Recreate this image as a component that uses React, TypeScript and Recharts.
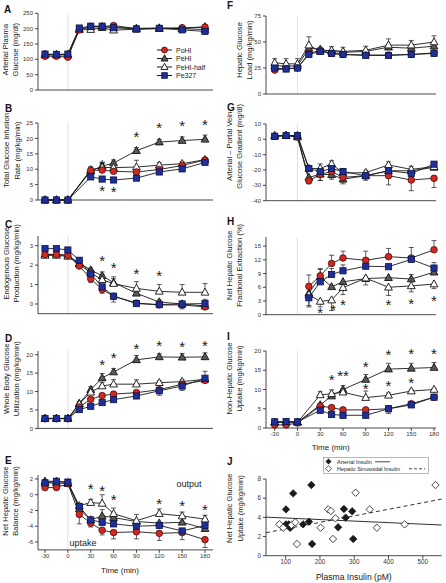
import React from 'react'
import {
  ComposedChart,
  Line,
  ErrorBar,
  Scatter,
  XAxis,
  YAxis,
  ReferenceLine,
  ReferenceDot,
  Legend
} from 'recharts'

const FONT = '"Liberation Sans", Arial, Helvetica, sans-serif'
const INK = '#1a1a1a'

// ---- time grid (min) ----
const timeFull = [-30, -15, 0, 15, 30, 45, 60, 90, 120, 150, 180]
const timeNo15 = [-30, -15, 0, 30, 45, 60, 90, 120, 150, 180]
const timeClamp = [15, 30, 45, 60, 90, 120, 150, 180]
const timeTicks = [-30, 0, 30, 60, 90, 120, 150, 180]

// ---- A: arterial plasma glucose (mg/dl) ----
const aPoHI = [110, 110, 107, 196, 207, 207, 210, 200, 201, 203, 205]
const aPeHI = [116, 116, 116, 198, 205, 206, 204, 201, 202, 200, 197]
const aPeHIhalf = [114, 114, 114, 196, 197, 203, 195, 198, 200, 200, 206]
const aPe327 = [117, 116, 117, 202, 208, 208, 203, 199, 201, 196, 191]

// ---- B: total glucose infusion rate ----
const bPoHI = [0, 0, 0, 9.6, 9.7, 9.3, 9.1, 9.9, 11.2, 13.0]
const bPeHI = [0, 0, 0, 9.4, 11.0, 12.0, 16.0, 18.8, 19.3, 19.7]
const bPeHIhalf = [0, 0, 0, 9.8, 10.6, 10.5, 10.7, 11.3, 11.8, 13.1]
const bPe327 = [0, 0, 0, 7.5, 6.8, 6.5, 7.1, 9.1, 10.1, 12.2]
const bPeHIerr = [0, 0, 0, 1.2, 1.0, 1.0, 1.0, 0.9, 1.2, 1.4]
const bPeHIhalfErr = [0, 0, 0, 1.0, 1.2, 1.6, 2.2, 0.8, 0.6, 0.5]
const bStars: [number, number, string?][] = [[45, 12.6], [60, 12.6], [90, 21.8], [120, 24.7], [150, 25.1], [180, 25.5], [45, 4.1], [60, 3.9]]

// ---- C: endogenous glucose production ----
const cPoHI = [2.55, 2.55, 2.5, 1.95, 1.3, 0.75, 0.4, 0.05, -0.05, -0.05, -0.15]
const cPeHI = [2.55, 2.55, 2.5, 2.1, 1.75, 1.45, 1.1, 0.55, 0.1, 0.0, -0.1]
const cPeHIhalf = [2.5, 2.5, 2.45, 2.05, 1.6, 1.25, 1.05, 0.8, 0.65, 0.6, 0.6]
const cPe327 = [2.85, 2.85, 2.78, 2.25, 1.55, 0.88, 0.4, 0.02, -0.03, 0.0, 0.02]
const cPoHIerr = [0, 0, 0, 0, -0.2, -0.2, -0.3, 0, 0, -0.2, 0]
const cPeHIerr = [0, 0, 0, 0, 0.1, 0.2, 0.2, 0, 0.1, 0, 0]
const cPeHIhalfErr = [0, 0, 0, 0, 0.15, 0.25, 0.35, 0.35, 0.35, 0.4, 0.45]
const cPe327err = [0, 0, 0, 0, 0, 0, 0, 0, 0, 0, 0.22]
const cStars: [number, number, string?][] = [[45, 2.4], [60, 2.05], [90, 1.75], [120, 1.66]]

// ---- D: whole body glucose utilization ----
const dPoHI = [2.6, 2.6, 2.6, 5.8, 7.9, 8.9, 9.3, 9.7, 10.5, 12.0, 13.0]
const dPeHI = [2.7, 2.7, 2.7, 6.8, 10.5, 13.7, 15.3, 18.6, 19.4, 19.3, 19.4]
const dPeHIhalf = [2.7, 2.7, 2.7, 6.6, 9.8, 11.5, 12.0, 12.0, 12.4, 12.7, 13.3]
const dPe327 = [2.7, 2.7, 2.7, 5.1, 6.0, 7.0, 7.8, 8.8, 10.2, 11.5, 13.6]
const dPeHIerr = [0, 0, 0, 0.5, 0.8, 1.2, 0.9, 1.2, 0.8, 1.0, 1.1]
const dPeHIhalfErr = [0, 0, 0, 0, 0.8, 1.0, 1.3, 1.2, 0.5, 0.5, 0.5]
const dPe327err = [0, 0, 0, 0, 0, 0, 0, -0.7, -1.2, -1.2, 1.9]
const dStars: [number, number, string?][] = [[45, 18.2], [60, 20.0], [90, 22.7], [120, 23.3], [150, 23.2], [180, 23.3]]

// ---- E: net hepatic glucose balance ----
const ePoHI = [0.9, 0.9, 1.4, -2.5, -3.6, -4.5, -4.8, -4.7, -4.9, -4.8, -5.7]
const ePeHI = [1.7, 1.7, 1.5, -1.8, -3.2, -2.7, -2.9, -3.4, -3.6, -3.5, -4.3]
const ePeHIhalf = [1.5, 1.5, 1.4, -1.4, -1.0, -1.1, -2.4, -3.3, -2.4, -2.7, -3.1]
const ePe327 = [1.5, 1.7, 1.6, -1.5, -3.2, -3.5, -3.7, -4.0, -3.9, -4.6, -3.9]
const ePoHIerr = [0, 0, 0, -1.2, -0.5, -0.6, -0.8, -0.9, -0.9, -0.9, -1.0]
const ePeHIerr = [0.2, 0, 0, 0, 0, 0.8, 0.6, 0, 0, 0, 0]
const ePeHIhalfErr = [0, 0, 0, 0, 0.4, 1.1, 0.7, 0.8, 0.6, 0.5, 0.5]
const eStars: [number, number, string?][] = [[30, 1.15], [45, 0.94], [60, -0.2], [120, -0.64], [150, -0.94], [180, -1.4]]
const eNotes: [number, number, string][] = [[159, 1.4, 'output'], [20, -6.1, 'uptake']]

// ---- F: hepatic glucose load ----
const fPoHI = [23, 24.5, 25, 39, 42, 39, 38, 37.5, 37.5, 38, 39.5]
const fPeHI = [27, 27, 27, 44, 43, 41, 40, 41, 45, 44, 46]
const fPeHIhalf = [30, 29, 29, 47, 41, 42, 41, 42, 47, 47, 50]
const fPe327 = [25, 24, 25, 38, 41, 39, 38, 37, 37, 38, 39]
const fPeHIhalfErr = [4, 5, 5, 8, 2, 3.5, 4, 4, 6, 4.5, 6]

// ---- G: arterial - portal vein glucose gradient ----
const gPoHI = [2, 2.5, 1.5, -27, -22.8, -21, -24.8, -23.7, -23.7, -26.5, -25.4]
const gPeHI = [2, 2.5, 1.5, -24.8, -22.8, -23, -26, -23.7, -20.5, -20.5, -18.3]
const gPeHIhalf = [2.5, 2.5, 2.5, -19, -19, -16, -22, -21.7, -16.7, -19.6, -17.8]
const gPe327 = [2, 2.5, 2.5, -19.1, -21, -19, -21, -23.7, -20.5, -22.2, -16.2]
const gPoHIerr = [0, 0, 0, -2, -4, -4, -3, -3, -6, -7, -6]
const gPeHIerr = [0, 0, 0, 0, -4, -3, -3, -2, 0, 0, 0]
const gPeHIhalfErr = [0, 0, 0, 0, 3, 2, 3, 1.5, 2, 2, 1.5]

// ---- H: net hepatic fractional extraction (%) ----
const hPoHI = [6.2, 8.5, 11.2, 12.4, 11.9, 12.7, 12.4, 14.2]
const hPeHI = [4.7, 8.3, 6.1, 7.2, 7.9, 8.1, 7.8, 9.3]
const hPeHIhalf = [4.4, 2.9, 3.2, 5.9, 8.0, 6.0, 6.3, 6.7]
const hPe327 = [3.7, 7.2, 8.8, 9.6, 10.6, 10.5, 12.1, 10.2]
const hPoHIerr = [2.5, 1.6, 1.8, 1.5, 2.0, 1.8, 2.3, 2.0]
const hPeHIerr = [0, 1.6, 0, 0, 0, 0, 1.0, 1.2]
const hPeHIhalfErr = [-2.4, -1.2, -2.3, -1.5, -1.5, -1.8, -1.3, -1.0]
const hPe327err = [-2.0, 0, 1.3, 1.3, 0, 0, 0, 1.2]
const hStars: [number, number, string?][] = [[30, 1.3], [47, 1.8], [60, 2.9], [120, 2.9], [150, 3.1], [180, 3.9]]

// ---- I: non-hepatic glucose uptake ----
const iPoHI = [0.8, 0.8, 1.3, 5.7, 5.3, 4.7, 4.7, 5.0, 6.3, 8.0]
const iPeHI = [1.5, 1.5, 1.5, 6.0, 8.3, 10.0, 12.6, 15.3, 15.5, 15.7]
const iPeHIhalf = [1.5, 1.5, 1.5, 8.6, 8.9, 9.3, 7.9, 8.5, 9.6, 10.0]
const iPe327 = [1.6, 1.7, 1.6, 4.6, 3.5, 3.3, 3.3, 5.0, 6.0, 8.0]
const iPeHIerr = [0, 0, 0, 0, 0.8, 1.0, 1.3, 1.5, 1.3, 1.3]
const iPeHIhalfErr = [0, 0, 0, 0.8, 1.0, 0.8, 1.7, 0.6, 0.3, 0.3]
const iPe327err = [0, 0, 0, -0.6, -0.7, -0.6, 0, -1.2, -0.6, -0.6]
const iStars: [number, number, string?][] = [[45, 13.4], [60, 14.4, '**'], [90, 16.9], [90, 11.1], [120, 20.0], [120, 11.9], [150, 20.2], [150, 12.8], [180, 20.3]]

// ---- J: NHGU vs plasma insulin ----
const arterialInsulin = [101, 101, 109, 113, 122, 151, 168, 175, 177, 253, 270, 275, 294, 297]
const arterialNHGU = [4.83, 3.27, 3.27, 2.9, 6.5, 3.27, 3.55, 7.37, 1.22, 2.96, 4.87, 3.97, 4.63, 1.74]
const sinusoidalInsulin = [82, 93, 117, 128, 133, 202, 224, 232, 238, 245, 304, 345, 366, 447, 537]
const sinusoidalNHGU = [3.27, 2.92, 3.2, 3.48, 1.22, 2.92, 4.83, 4.66, 1.74, 3.9, 6.57, 4.83, 2.92, 3.27, 7.37]
const fitX = [42.7, 555]
const arterialFitY = [4.02, 3.2]
const sinusoidalFitY = [2.4, 5.9]
const insulinTicks = [100, 200, 300, 400, 500]

// ---- series styling ----
const SERIES = [
  { key: 'PoHI', name: 'PoHI', kind: 'circle', fill: '#d3271f', stroke: '#4a0c08' },
  { key: 'PeHI', name: 'PeHI', kind: 'triangle', fill: '#5a5a5a', stroke: '#111111' },
  { key: 'PeHIhalf', name: 'PeHI-half', kind: 'triangle', fill: '#ffffff', stroke: '#111111' },
  { key: 'Pe327', name: 'Pe327', kind: 'square', fill: '#1e2f9c', stroke: '#0c1445' }
]
const DRAW_ORDER = [1, 2, 0, 3]

const TIME_PANELS = [
  { letter: 'A', title: ['Arterial Plasma', 'Glucose (mg/dl)'], times: timeFull, values: [aPoHI, aPeHI, aPeHIhalf, aPe327], errors: [], stars: [], yDomain: [0, 250], yTicks: [0, 50, 100, 150, 200, 250] },
  { letter: 'B', title: ['Total Glucose Infusion', 'Rate (mg/kg/min)'], times: timeNo15, values: [bPoHI, bPeHI, bPeHIhalf, bPe327], errors: [[], bPeHIerr, bPeHIhalfErr, []], stars: bStars, yDomain: [0, 25], yTicks: [0, 5, 10, 15, 20, 25] },
  { letter: 'C', title: ['Endogenous Glucose', 'Production (mg/kg/min)'], times: timeFull, values: [cPoHI, cPeHI, cPeHIhalf, cPe327], errors: [cPoHIerr, cPeHIerr, cPeHIhalfErr, cPe327err], stars: cStars, yDomain: [-0.5, 3.5], yTicks: [0, 1, 2, 3] },
  { letter: 'D', title: ['Whole Body Glucose', 'Utilization (mg/kg/min)'], times: timeFull, values: [dPoHI, dPeHI, dPeHIhalf, dPe327], errors: [[], dPeHIerr, dPeHIhalfErr, dPe327err], stars: dStars, yDomain: [0, 21], yTicks: [0, 5, 10, 15, 20] },
  { letter: 'E', title: ['Net Hepatic Glucose', 'Balance (mg/kg/min)'], times: timeFull, values: [ePoHI, ePeHI, ePeHIhalf, ePe327], errors: [ePoHIerr, ePeHIerr, ePeHIhalfErr, []], stars: eStars, notes: eNotes, yDomain: [-7, 2.5], yTicks: [-6, -4, -2, 0, 2] },
  { letter: 'F', title: ['Hepatic Glucose', 'Load (mg/kg/min)'], times: timeFull, values: [fPoHI, fPeHI, fPeHIhalf, fPe327], errors: [[], [], fPeHIhalfErr, []], stars: [], yDomain: [0, 75], yTicks: [0, 25, 50, 75] },
  { letter: 'G', title: ['Arterial \u2013 Portal Vein', 'Glucose Gradient (mg/dl)'], times: timeFull, values: [gPoHI, gPeHI, gPeHIhalf, gPe327], errors: [gPoHIerr, gPeHIerr, gPeHIhalfErr, []], stars: [], yDomain: [-40, 10], yTicks: [-40, -30, -20, -10, 0, 10] },
  { letter: 'H', title: ['Net Hepatic Glucose', 'Fractional Extraction (%)'], times: timeClamp, values: [hPoHI, hPeHI, hPeHIhalf, hPe327], errors: [hPoHIerr, hPeHIerr, hPeHIhalfErr, hPe327err], stars: hStars, yDomain: [0, 17], yTicks: [0, 3, 6, 9, 12, 15] },
  { letter: 'I', title: ['Non-Hepatic Glucose', 'Uptake (mg/kg/min)'], times: timeNo15, values: [iPoHI, iPeHI, iPeHIhalf, iPe327], errors: [[], iPeHIerr, iPeHIhalfErr, iPe327err], stars: iStars, yDomain: [0, 20], yTicks: [0, 5, 10, 15, 20] }
]

// ---- page layout ----
const LEFT = { x0: 0, plotLeft: 38, plotRight: 213, domain: [-39.2, 190.5] }
const RIGHT = { x0: 223, plotLeft: 266, plotRight: 436, domain: [-41.5, 182.6] }

const LAYOUT: Record<string, any> = {
  A: { col: LEFT, top: 13.3, bottom: 90, titleOff: [32, 22], titleDy: -2, letterY: 13.3 },
  B: { col: LEFT, top: 123, bottom: 200, titleOff: [32, 21], titleDy: -11, letterY: 112.3 },
  C: { col: LEFT, top: 236, bottom: 313.7, titleOff: [31.3, 21.3], titleDy: -11.5, letterY: 228.3 },
  D: { col: LEFT, top: 351.3, bottom: 428.7, titleOff: [31.3, 21.3], titleDy: -11, letterY: 342.3 },
  E: { col: LEFT, top: 475.4, bottom: 550.3, titleOff: [32, 22], titleDy: -11.5, letterY: 464.3, timeTitle: [82, 22.7] },
  F: { col: RIGHT, top: 16, bottom: 94, titleOff: [26.3, 16.3], titleDy: -5, letterY: 9.3 },
  G: { col: RIGHT, top: 124, bottom: 200.7, titleOff: [36.3, 26.3], titleDy: -16, letterY: 111.7 },
  H: { col: RIGHT, top: 236.6, bottom: 314.3, titleOff: [36.3, 26.3], titleDy: -10.5, letterY: 225 },
  I: { col: RIGHT, top: 350.7, bottom: 427.7, titleOff: [36.3, 26.3], titleDy: -11, letterY: 340, timeTitle: [64.7, 22.3] }
}

const axisLine = { stroke: INK, strokeWidth: 0.8 }
const tickFont = { fontSize: 6, fill: '#333', fontFamily: FONT }

function Marker({ kind, x, y, fill, stroke, s = 1 }: any) {
  if (kind === 'circle') return <circle cx={x} cy={y} r={3.3 * s} fill={fill} stroke={stroke} strokeWidth={0.8} />
  if (kind === 'square') return <rect x={x - 3.1 * s} y={y - 3.1 * s} width={6.2 * s} height={6.2 * s} fill={fill} stroke={stroke} strokeWidth={0.8} />
  return (
    <polygon
      points={`${x},${y - 4.2 * s} ${x - 3.9 * s},${y + 2.8 * s} ${x + 3.9 * s},${y + 2.8 * s}`}
      fill={fill}
      stroke={stroke}
      strokeWidth={0.9}
    />
  )
}

const yTitle = (lines: string[], off: number[], dy: number) => (props: any) => {
  const vb = props.viewBox
  if (!vb) return null
  const right = vb.x + vb.width
  const cy = vb.y + vb.height / 2 + dy
  return (
    <g>
      {lines.map((ln, i) => {
        const x = right - off[i]
        return (
          <text key={i} x={x} y={cy} transform={`rotate(-90 ${x} ${cy})`} textAnchor="middle" dominantBaseline="central" fontSize={7.6} fontFamily={FONT} fill={INK}>
            {ln}
          </text>
        )
      })}
    </g>
  )
}

const xTitle = (text: string, cx: number, dy: number, size: number) => (props: any) => {
  const vb = props.viewBox
  if (!vb) return null
  return (
    <text x={vb.x + cx} y={vb.y + dy} textAnchor="middle" fontSize={size} fontFamily={FONT} fill={INK}>
      {text}
    </text>
  )
}

const textShape = (label: string, size: number, dy: number) => (props: any) => (
  <text x={props.cx} y={props.cy} dy={dy} textAnchor="middle" fontSize={size} fontFamily={FONT} fill={INK} stroke="none">
    {label}
  </text>
)

function GroupLegend() {
  const rows = [5, 13.5, 22, 30.5]
  return (
    <svg width={64} height={36}>
      {SERIES.map((s, i) => (
        <g key={s.key}>
          <line x1={1} x2={16} y1={rows[i]} y2={rows[i]} stroke={INK} strokeWidth={1} />
          <Marker kind={s.kind} x={8.5} y={rows[i]} fill={s.fill} stroke={s.stroke} s={0.9} />
          <text x={20} y={rows[i]} dominantBaseline="central" fontSize={7} fontFamily={FONT} fill={INK}>
            {s.name}
          </text>
        </g>
      ))}
    </svg>
  )
}

function TimePanel({ def, lay }: any) {
  const col = lay.col
  const padTop = Math.min(22, lay.top)
  const axisH = lay.timeTitle ? 30 : 6
  const plotH = lay.bottom - lay.top
  const width = col.plotRight + 8 - col.x0
  const height = padTop + plotH + axisH
  const rows = def.times.map((t: number, i: number) => {
    const row: Record<string, any> = { t }
    SERIES.forEach((s, k) => {
      row[s.key] = def.values[k][i]
      const e = def.errors[k]?.[i]
      if (e) row[s.key + 'Err'] = e > 0 ? [0, e] : [-e, 0]
    })
    return row
  })

  return (
    <div style={{ position: 'absolute', left: col.x0, top: lay.top - padTop }}>
      <ComposedChart width={width} height={height} data={rows} margin={{ top: padTop, right: 8, bottom: 0, left: 0 }}>
        <XAxis
          dataKey="t"
          type="number"
          domain={col.domain}
          ticks={timeTicks}
          interval={0}
          height={axisH}
          axisLine={axisLine}
          tickLine={axisLine}
          tickSize={3}
          tickMargin={1}
          tick={lay.timeTitle ? tickFont : false}
          label={lay.timeTitle ? xTitle('Time (min)', lay.timeTitle[0], lay.timeTitle[1], 8) : undefined}
        />
        <YAxis
          type="number"
          domain={def.yDomain}
          ticks={def.yTicks}
          interval={0}
          width={col.plotLeft - col.x0}
          axisLine={axisLine}
          tickLine={axisLine}
          tickSize={3}
          tickMargin={2}
          tick={tickFont}
          label={yTitle(def.title, lay.titleOff, lay.titleDy)}
        />
        <ReferenceLine x={0} stroke="#d9d9d9" strokeWidth={0.8} />
        {DRAW_ORDER.map((k) => {
          const s = SERIES[k]
          return (
            <Line
              key={s.key}
              dataKey={s.key}
              type="linear"
              stroke={INK}
              strokeWidth={0.9}
              isAnimationActive={false}
              activeDot={false}
              legendType="none"
              dot={(p: any) => (
                <g key={`${s.key}-${p.index}`}>
                  <Marker kind={s.kind} x={p.cx} y={p.cy} fill={s.fill} stroke={s.stroke} />
                </g>
              )}
            >
              <ErrorBar dataKey={s.key + 'Err'} width={2.5} stroke="#333" strokeWidth={0.8} direction="y" />
            </Line>
          )
        })}
        {def.stars.map(([t, v, lbl]: any, i: number) => (
          <ReferenceDot key={'st' + i} x={t} y={v} r={0} ifOverflow="visible" shape={textShape(lbl ?? '*', 15, 8.8)} />
        ))}
        {(def.notes || []).map(([t, v, lbl]: any, i: number) => (
          <ReferenceDot key={'nt' + i} x={t} y={v} r={0} ifOverflow="visible" shape={textShape(lbl, 9, 3)} />
        ))}
        {def.letter === 'A' && (
          <Legend
            layout="vertical"
            align="center"
            verticalAlign="middle"
            wrapperStyle={{ position: 'absolute', left: 156, top: 45, width: 64, height: 36 }}
            content={() => <GroupLegend />}
          />
        )}
      </ComposedChart>
    </div>
  )
}

const diamond = (filled: boolean) => (p: any) => {
  const r = 3.7
  return (
    <polygon
      points={`${p.cx},${p.cy - r} ${p.cx + r},${p.cy} ${p.cx},${p.cy + r} ${p.cx - r},${p.cy}`}
      fill={filled ? INK : '#ffffff'}
      stroke={INK}
      strokeWidth={0.8}
    />
  )
}

function InsulinLegend() {
  return (
    <svg width={106} height={17}>
      <rect x={0.5} y={0.5} width={105} height={16} fill="#fff" stroke="#999" strokeWidth={0.7} />
      <polygon points="5,1.5 8,4.5 5,7.5 2,4.5" fill={INK} transform="translate(0.5,0)" />
      <text x={14} y={4.8} dominantBaseline="central" fontSize={5.5} fontFamily={FONT} fill={INK}>Arterial Insulin</text>
      <line x1={52} x2={67} y1={4.8} y2={4.8} stroke={INK} strokeWidth={0.8} />
      <polygon points="5,8.7 8,11.7 5,14.7 2,11.7" fill="#fff" stroke={INK} strokeWidth={0.7} transform="translate(0.5,0)" />
      <text x={14} y={11.8} dominantBaseline="central" fontSize={5.5} fontFamily={FONT} fill={INK}>Hepatic Sinusoidal Insulin</text>
      <line x1={86} x2={102} y1={11.8} y2={11.8} stroke={INK} strokeWidth={0.8} strokeDasharray="3 2" />
    </svg>
  )
}

function InsulinPanel() {
  const x0 = 223
  const plotLeft = 266
  const plotRight = 441.7
  const top = 479
  const bottom = 555.7
  const padTop = 22
  const axisH = 28
  const width = plotRight + 4 - x0
  const height = padTop + (bottom - top) + axisH
  const arterialPts = arterialInsulin.map((x, i) => ({ x, y: arterialNHGU[i] }))
  const sinusoidalPts = sinusoidalInsulin.map((x, i) => ({ x, y: sinusoidalNHGU[i] }))
  const arterialFit = fitX.map((x, i) => ({ x, y: arterialFitY[i] }))
  const sinusoidalFit = fitX.map((x, i) => ({ x, y: sinusoidalFitY[i] }))

  return (
    <div style={{ position: 'absolute', left: x0, top: top - padTop }}>
      <ComposedChart width={width} height={height} margin={{ top: padTop, right: 4, bottom: 0, left: 0 }}>
        <XAxis
          dataKey="x"
          type="number"
          domain={[42.7, 555]}
          ticks={insulinTicks}
          interval={0}
          height={axisH}
          axisLine={axisLine}
          tickLine={axisLine}
          tickSize={3}
          tickMargin={1}
          tick={{ ...tickFont, fontSize: 6.3 }}
          label={xTitle('Plasma Insulin (pM)', 87.8, 24.3, 8.6)}
        />
        <YAxis
          dataKey="y"
          type="number"
          domain={[0, 8]}
          ticks={[0, 2, 4, 6, 8]}
          interval={0}
          width={plotLeft - x0}
          axisLine={axisLine}
          tickLine={axisLine}
          tickSize={3}
          tickMargin={2}
          tick={{ ...tickFont, fontSize: 6.3 }}
          label={yTitle(['Net Hepatic Glucose', 'Uptake (mg/kg/min)'], [36.3, 25.7], -9)}
        />
        <ReferenceLine segment={arterialFit} stroke={INK} strokeWidth={0.9} ifOverflow="visible" />
        <ReferenceLine segment={sinusoidalFit} stroke={INK} strokeWidth={0.9} strokeDasharray="4 3" ifOverflow="visible" />
        <Scatter data={arterialPts} dataKey="y" shape={diamond(true)} isAnimationActive={false} legendType="none" />
        <Scatter data={sinusoidalPts} dataKey="y" shape={diamond(false)} isAnimationActive={false} legendType="none" />
        <Legend
          layout="vertical"
          align="center"
          verticalAlign="middle"
          wrapperStyle={{ position: 'absolute', left: 100, top: 0, width: 106, height: 17 }}
          content={() => <InsulinLegend />}
        />
      </ComposedChart>
    </div>
  )
}

const LETTERS: [string, number, number][] = [
  ['A', 4, 13.3], ['B', 5, 112.3], ['C', 5, 228.3], ['D', 5, 342.3], ['E', 5, 464.3],
  ['F', 227, 9.3], ['G', 227, 111.7], ['H', 227, 225], ['I', 227, 340], ['J', 227, 465.7]
]

export default function App() {
  return (
    <div style={{ position: 'absolute', left: 0, top: 0, width: 446, height: 583, background: '#fff', fontFamily: FONT, overflow: 'hidden' }}>
      {TIME_PANELS.map((p) => (
        <TimePanel key={p.letter} def={p} lay={LAYOUT[p.letter]} />
      ))}
      <InsulinPanel />
      {LETTERS.map(([l, x, y]) => (
        <div key={l} style={{ position: 'absolute', left: x, top: y - 8.5, fontSize: 10, lineHeight: '10px', fontWeight: 'bold', color: '#111' }}>
          {l}
        </div>
      ))}
    </div>
  )
}
